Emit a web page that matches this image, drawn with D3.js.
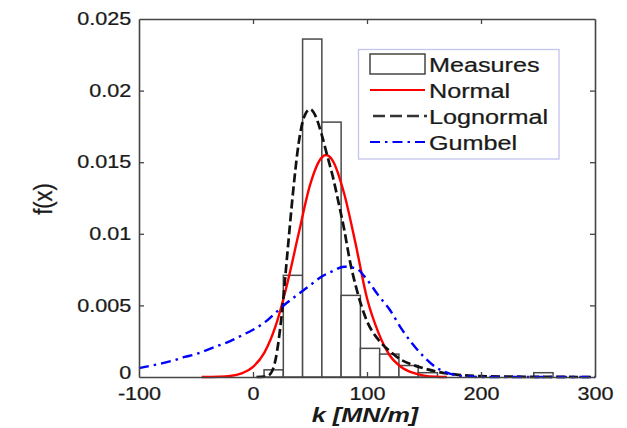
<!DOCTYPE html>
<html>
<head>
<meta charset="utf-8">
<script src="https://cdn.jsdelivr.net/npm/d3@7"></script>
<style>
  html, body { margin: 0; padding: 0; background: #fff; }
  svg { display: block; }
  text { font-family: "Liberation Sans", Arial, Helvetica, sans-serif; fill: #1a1a1a; }
</style>
</head>
<body>
<svg id="chart" width="627" height="428"></svg>
<script>
// ---- data ----
const xTicks = [-100, 0, 100, 200, 300];
const yTicks = [0, 0.005, 0.01, 0.015, 0.02, 0.025];
const yTickLabels = ["0", "0.005", "0.01", "0.015", "0.02", "0.025"];

// histogram "Measures": bin edges and density
const binLo = [9.7, 26.6, 43.5, 60.4, 77.3, 94.2, 111.1, 128.0, 144.9, 246.3];
const binHi = [26.6, 43.5, 60.4, 77.3, 94.2, 111.1, 128.0, 144.9, 161.8, 263.2];
const binDensity = [0.0005, 0.0071, 0.0236, 0.0178, 0.0057, 0.0020, 0.0016, 0.0008, 0.0003, 0.0003];

// Normal fit
const normalX = [-45, -30, -20, -10, 0, 10, 20, 30, 40, 50, 60, 64, 70, 80, 90, 100, 110, 120, 130, 140, 150, 160, 170];
const normalY = [0, 0.00002, 0.00007, 0.00025, 0.0007, 0.0017, 0.0036, 0.0065, 0.0100, 0.0134, 0.0153, 0.0155, 0.0151, 0.0128, 0.0093, 0.0055, 0.0031, 0.0015, 0.0007, 0.0003, 0.0001, 0.00002, 0];

// Lognormal fit
const lognormX = [3, 10, 15, 20, 25, 30, 35, 40, 45, 50, 55, 60, 65, 70, 75, 80, 85, 90, 95, 100, 110, 120, 130, 140, 150, 160, 170, 180, 200, 250, 300];
const lognormY = [0, 0.00002, 0.0002, 0.0013, 0.0042, 0.0085, 0.0128, 0.0163, 0.0182, 0.0187, 0.0182, 0.0170, 0.0155, 0.0140, 0.0122, 0.0103, 0.0081, 0.0064, 0.0050, 0.0039, 0.0026, 0.0018, 0.0012, 0.00085, 0.0006, 0.0004, 0.00025, 0.00015, 0.00006, 0.00001, 0];

// Gumbel fit
const gumbelX = [-100, -90, -80, -70, -60, -50, -40, -30, -20, -10, 0, 10, 20, 30, 40, 50, 60, 70, 80, 90, 100, 110, 120, 130, 140, 150, 160, 170, 180, 190, 200, 300];
const gumbelY = [0.00062, 0.00078, 0.00095, 0.00115, 0.0014, 0.0016, 0.0019, 0.0022, 0.0025, 0.0029, 0.0033, 0.0038, 0.0045, 0.0052, 0.0058, 0.0064, 0.0070, 0.0074, 0.0077, 0.0076, 0.0068, 0.0057, 0.0047, 0.0034, 0.0023, 0.0014, 0.0007, 0.0003, 0.0001, 0.00003, 0, 0];

const legendLabels = ["Measures", "Normal", "Lognormal", "Gumbel"];

// ---- layout ----
const svg = d3.select("#chart");
const L = 139, R = 595, T = 19, B = 377;
const SX = 1.2; // horizontal text stretch seen in the reference

const x = d3.scaleLinear().domain([-100, 300]).range([L, R]);
const y = d3.scaleLinear().domain([0, 0.025]).range([B, T]);

// bars
svg.append("g")
  .selectAll("rect")
  .data(binDensity)
  .join("rect")
  .attr("x", (d, i) => x(binLo[i]))
  .attr("width", (d, i) => x(binHi[i]) - x(binLo[i]))
  .attr("y", d => y(d))
  .attr("height", d => y(0) - y(d))
  .attr("fill", "#fff")
  .attr("stroke", "#4a4a4a")
  .attr("stroke-width", 1.5);

const line = d3.line().x(d => x(d[0])).y(d => y(d[1])).curve(d3.curveMonotoneX);

svg.append("path")
  .datum(d3.zip(normalX, normalY))
  .attr("d", line)
  .attr("fill", "none")
  .attr("stroke", "#ff0000")
  .attr("stroke-width", 2.4);

svg.append("path")
  .datum(d3.zip(lognormX, lognormY))
  .attr("d", line)
  .attr("fill", "none")
  .attr("stroke", "#111")
  .attr("stroke-width", 2.7)
  .attr("stroke-dasharray", "9,4");

svg.append("path")
  .datum(d3.zip(gumbelX, gumbelY))
  .attr("d", line)
  .attr("fill", "none")
  .attr("stroke", "#0000ff")
  .attr("stroke-width", 2.4)
  .attr("stroke-dasharray", "10,5,2.5,5");

// axes (MATLAB box with inward ticks)
const frameColor = "#444";
const gB = svg.append("g").attr("transform", `translate(0,${B})`)
  .call(d3.axisBottom(x).tickValues(xTicks).tickSize(-5).tickSizeOuter(0).tickPadding(10.5).tickFormat(d => String(d)));
const gT = svg.append("g").attr("transform", `translate(0,${T})`)
  .call(d3.axisTop(x).tickValues(xTicks).tickSize(-5).tickSizeOuter(0).tickFormat(""));
const gL = svg.append("g").attr("transform", `translate(${L},0)`)
  .call(d3.axisLeft(y).tickValues(yTicks).tickSize(-5).tickSizeOuter(0).tickPadding(6.5).tickFormat((d, i) => yTickLabels[i]));
const gR = svg.append("g").attr("transform", `translate(${R},0)`)
  .call(d3.axisRight(y).tickValues(yTicks).tickSize(-5).tickSizeOuter(0).tickFormat(""));

[gB, gT, gL, gR].forEach(g => {
  g.select(".domain").attr("stroke", frameColor).attr("stroke-width", 1.6);
  g.selectAll(".tick line").attr("stroke", frameColor).attr("stroke-width", 1.3);
  g.selectAll(".tick text")
    .attr("font-size", 18)
    .attr("font-family", "'Liberation Sans', Arial, sans-serif")
    .attr("fill", "#1a1a1a")
    .attr("stroke", "#1a1a1a")
    .attr("stroke-width", 0.25)
    .attr("transform", `scale(${SX},1)`);
});
// the "0" label of the y axis sits slightly above the corner, as in the reference
gL.selectAll(".tick text").filter(d => d === 0).attr("dy", "0.1em");
// remove the tick marks that would sit on the frame corners
[gB, gT].forEach(g => g.selectAll(".tick line").filter(d => d === -100 || d === 300).remove());
[gL, gR].forEach(g => g.selectAll(".tick line").filter(d => d === 0 || d === 0.025).remove());

// axis labels
svg.append("text")
  .attr("transform", `translate(365,422) scale(${SX},1)`)
  .attr("text-anchor", "middle")
  .attr("font-size", 21)
  .attr("font-weight", "bold")
  .attr("font-style", "italic")
  .text("k [MN/m]");

svg.append("text")
  .attr("transform", `translate(52,199) rotate(-90) scale(1,${SX})`)
  .attr("text-anchor", "middle")
  .attr("font-size", 22)
  .attr("stroke", "#1a1a1a")
  .attr("stroke-width", 0.25)
  .text("f(x)");

// legend
const lg = svg.append("g");
lg.append("rect")
  .attr("x", 358.5).attr("y", 49.5).attr("width", 200.5).attr("height", 109.5)
  .attr("fill", "#fff").attr("stroke", "#c4c4ee").attr("stroke-width", 1.3);

const rowY = i => 64 + i * 26;
const sx0 = 370, sx1 = 425;

lg.append("rect")
  .attr("x", sx0).attr("y", rowY(0) - 10).attr("width", sx1 - sx0).attr("height", 20)
  .attr("fill", "#fff").attr("stroke", "#444").attr("stroke-width", 1.5);
lg.append("line")
  .attr("x1", sx0).attr("x2", sx1).attr("y1", rowY(1)).attr("y2", rowY(1))
  .attr("stroke", "#ff0000").attr("stroke-width", 2);
lg.append("line")
  .attr("x1", sx0 + 3).attr("x2", sx1 + 2).attr("y1", rowY(2)).attr("y2", rowY(2))
  .attr("stroke", "#333").attr("stroke-width", 2.4).attr("stroke-dasharray", "12,5");
lg.append("line")
  .attr("x1", sx0).attr("x2", sx1).attr("y1", rowY(3)).attr("y2", rowY(3))
  .attr("stroke", "#0000ff").attr("stroke-width", 2.2).attr("stroke-dasharray", "10,5,2.5,5");

lg.selectAll("text.lab")
  .data(legendLabels)
  .join("text")
  .attr("class", "lab")
  .attr("transform", (d, i) => `translate(429,${rowY(i)}) scale(${SX},1)`)
  .attr("dy", "0.36em")
  .attr("font-size", 21)
  .attr("stroke", "#1a1a1a")
  .attr("stroke-width", 0.25)
  .text(d => d);
</script>
</body>
</html>
